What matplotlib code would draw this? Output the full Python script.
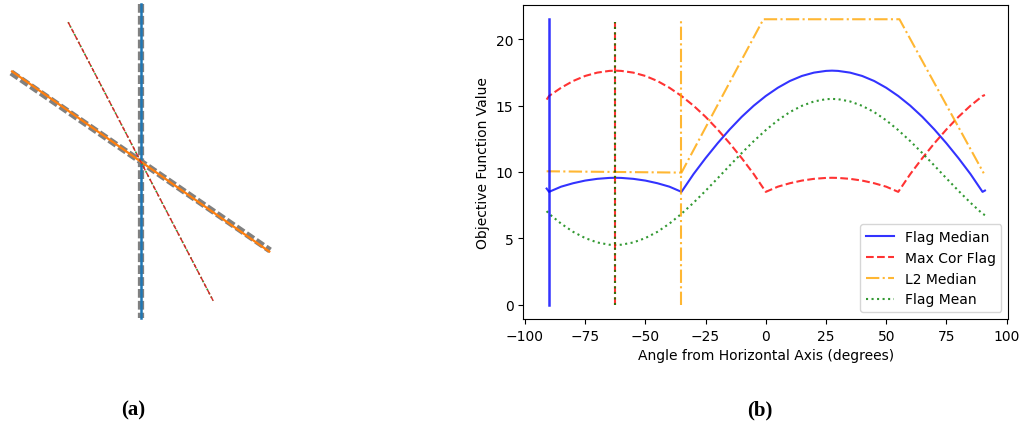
import numpy as np
import matplotlib.pyplot as plt

# angles (degrees) at which the objective functions were evaluated
angle_deg = [-91, -90, -85, -80, -75, -70, -65, -62.5, -60, -55, -50, -45, -40,
             -35, -30, -25, -20, -15, -10, -5, 0, 5, 10, 15, 20, 25, 27.5, 30,
             35, 40, 45, 50, 55, 60, 65, 70, 75, 80, 85, 90, 91]

flag_median = [8.75, 8.5, 8.89, 9.15, 9.35, 9.48, 9.55, 9.56, 9.55, 9.48, 9.35,
               9.15, 8.89, 8.5, 9.84, 11.04, 12.16, 13.2, 14.15, 14.99, 15.72,
               16.34, 16.85, 17.23, 17.48, 17.61, 17.63, 17.61, 17.48, 17.23,
               16.85, 16.34, 15.72, 14.99, 14.15, 13.2, 12.16, 11.04, 9.84, 8.5, 8.6]

max_cor_flag = [15.45, 15.72, 16.34, 16.85, 17.23, 17.48, 17.61, 17.63, 17.61,
                17.48, 17.23, 16.85, 16.34, 15.72, 14.99, 14.15, 13.2, 12.16,
                11.04, 9.84, 8.5, 8.89, 9.15, 9.35, 9.48, 9.55, 9.56, 9.55, 9.48,
                9.35, 9.15, 8.89, 8.5, 9.84, 11.04, 12.16, 13.2, 14.15, 14.99,
                15.72, 15.8]

flag_mean = [7.05, 6.85, 6.11, 5.49, 5.02, 4.69, 4.52, 4.5, 4.52, 4.69, 5.02,
             5.49, 6.11, 6.85, 7.68, 8.58, 9.52, 10.48, 11.42, 12.32, 13.15,
             13.89, 14.51, 14.98, 15.31, 15.48, 15.5, 15.48, 15.31, 14.98, 14.51,
             13.89, 13.15, 12.32, 11.42, 10.48, 9.52, 8.58, 7.68, 6.85, 6.75]

# L2 median objective is piecewise linear
l2_angle = [-91, -35, -1, 55.5, 90.5]
l2_median = [10.05, 9.95, 21.5, 21.5, 9.9]

# optimal angles found by each method and height of the marker line
opt_flag_median = -90
opt_max_cor = -62.5
opt_l2_median = -35
opt_flag_mean = -62.5
marker_top = [21.5, 21.3, 21.5, 21.3]

# data subspaces (lines through the origin)
data_angles = [-90, -34.5]

fig = plt.figure(figsize=(10.22, 4.27), dpi=100)

# ---- (a) lines in the plane ----
ax_a = fig.add_axes([0.0, 0.2389, 0.2759, 0.7611])
ax_a.set_xlim(-0.896, 0.9)
ax_a.set_ylim(-1.035, 1.035)
ax_a.axis('off')

def unit_line(deg):
    t = np.deg2rad(deg)
    return [-np.cos(t), np.cos(t)], [-np.sin(t), np.sin(t)]

for d in data_angles:
    xs, ys = unit_line(d)
    ax_a.plot(xs, ys, color='grey', linestyle=(0, (1.4, 0.5)), linewidth=4.5,
              solid_capstyle='butt', clip_on=False)

xs, ys = unit_line(opt_flag_median)
ax_a.plot(xs, ys, color='C0', linewidth=1.8, clip_on=False)
xs, ys = unit_line(opt_l2_median)
ax_a.plot(xs, ys, color='C1', linewidth=1.6, clip_on=False)
xs, ys = unit_line(opt_flag_mean)
ax_a.plot(xs, ys, color='C2', linestyle=':', linewidth=1.2, clip_on=False)
xs, ys = unit_line(opt_max_cor)
ax_a.plot(xs, ys, color='C3', linestyle='--', linewidth=1.0, clip_on=False)

# ---- (b) objective function vs angle ----
ax = fig.add_axes([0.512, 0.2506, 0.4746, 0.7354])

ax.plot(angle_deg, flag_median, color='b', alpha=0.8, linewidth=1.5, label='Flag Median')
ax.plot(angle_deg, max_cor_flag, color='r', alpha=0.8, linestyle='--', linewidth=1.5, label='Max Cor Flag')
ax.plot(l2_angle, l2_median, color='orange', alpha=0.8, linestyle='-.', linewidth=1.5, label='L2 Median')
ax.plot(angle_deg, flag_mean, color='g', alpha=0.8, linestyle=':', linewidth=1.5, label='Flag Mean')

ax.plot([opt_flag_median] * 2, [0, marker_top[0]], color='b', alpha=0.8, linewidth=1.8)
ax.plot([opt_max_cor] * 2, [0, marker_top[1]], color='r', alpha=0.8, linestyle='--', linewidth=1.5)
ax.plot([opt_l2_median] * 2, [0, marker_top[2]], color='orange', alpha=0.8, linestyle='-.', linewidth=1.5)
ax.plot([opt_flag_mean] * 2, [0, marker_top[3]], color='g', alpha=0.8, linestyle=':', linewidth=1.5)

ax.set_xlim(-100.7, 100.7)
ax.set_ylim(-1.075, 22.575)
ax.set_xticks([-100, -75, -50, -25, 0, 25, 50, 75, 100])
ax.set_yticks([0, 5, 10, 15, 20])
ax.set_xlabel('Angle from Horizontal Axis (degrees)', fontsize=10)
ax.set_ylabel('Objective Function Value', fontsize=10)
ax.tick_params(labelsize=10)
ax.legend(loc='lower right', fontsize=10)

# panel captions
fig.text(133 / 1022, 1 - 410 / 427, '(a)', ha='center', va='center',
         fontsize=15, fontweight='bold', family='Liberation Serif')
fig.text(760 / 1022, 1 - 410 / 427, '(b)', ha='center', va='center',
         fontsize=15, fontweight='bold', family='Liberation Serif')

fig.savefig('out.png', dpi=100)
